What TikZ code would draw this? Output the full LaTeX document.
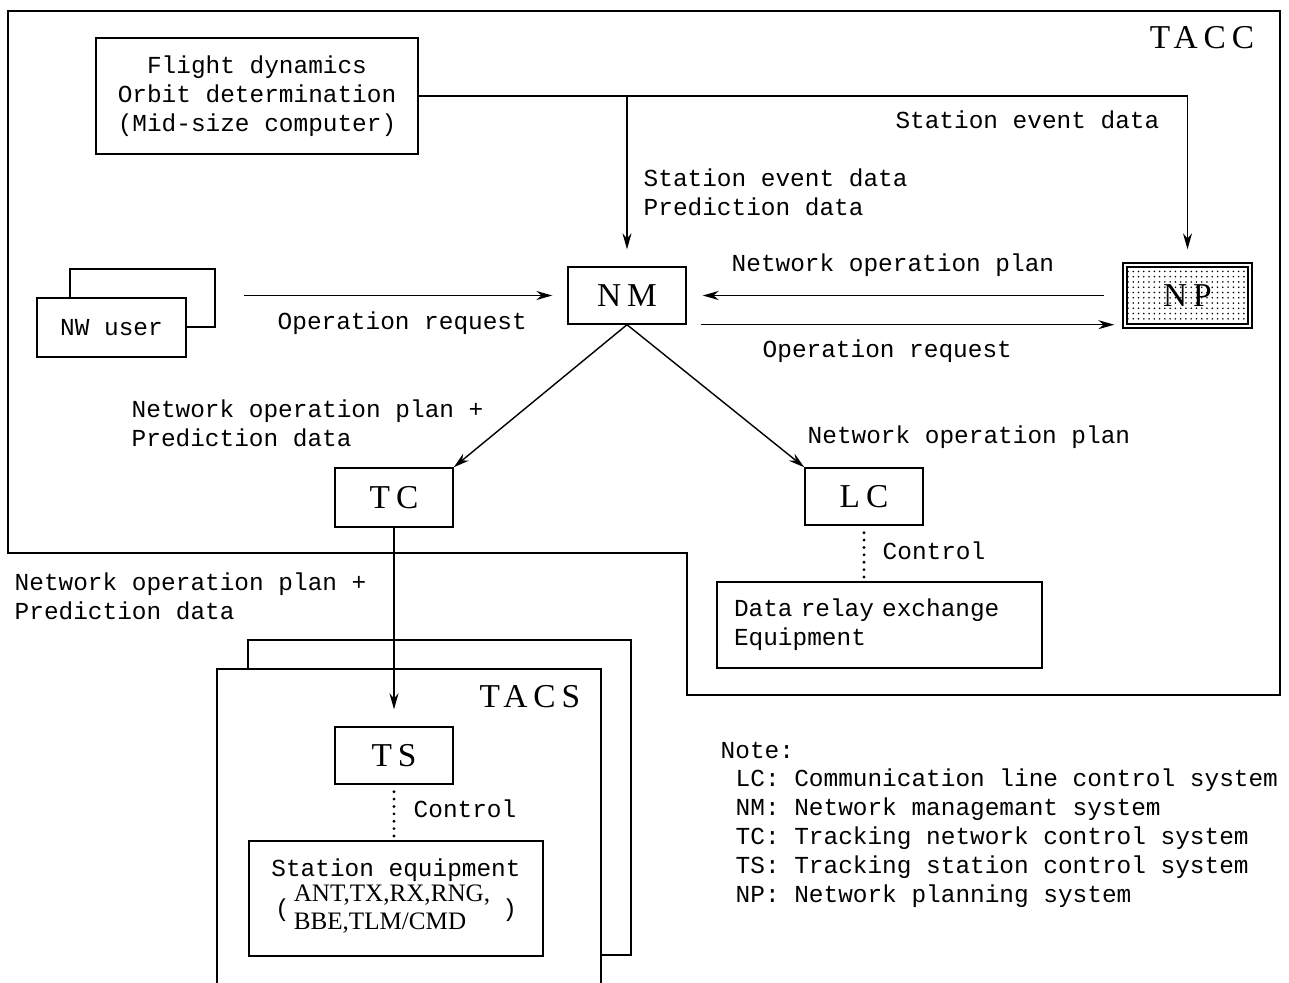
\documentclass[tikz,border=0pt]{standalone}
\usepackage{fontspec}
\setmainfont{Liberation Mono}
\newfontfamily\labelfont[LetterSpace=18]{Liberation Serif}
\newfontfamily\narrowfont{Liberation Serif}
\usetikzlibrary{arrows.meta,patterns}

\begin{document}
\begin{tikzpicture}
  [x=0.02cm,y=-0.02cm,line width=0.8pt,
   every node/.style={font=\fontsize{13.9}{16.5}\selectfont},
   box/.style={draw,rectangle,fill=white,inner sep=0pt},
   tag/.style={font=\labelfont\fontsize{19}{22}\selectfont},
   txt/.style={inner sep=0pt,align=left},
   arr/.style={-{Stealth[length=3.2mm,width=1.8mm]}},
   ctrl/.style={line width=1.8pt,dash pattern=on 0pt off 4.2pt,line cap=round}]

  \useasboundingbox (0,0) rectangle (1289,983);

  \draw (8,11) -- (1280,11) -- (1280,695) -- (687,695) -- (687,553) -- (8,553) -- cycle;
  \node[tag] (tacc) at (1202,38) {TACC};

  \node[box,minimum width=6.44cm,minimum height=2.32cm,align=center] (fd) at (257,96) {Flight dynamics\\Orbit determination\\(Mid-size computer)};
  \node[box,minimum width=2.36cm,minimum height=1.14cm,tag] (nm) at (627,295.5) {NM};
  \node[box,double,double distance=1.6pt,pattern=dots,minimum width=2.5cm,minimum height=1.22cm,tag] (np) at (1187.5,295.5) {NP};
  \node[box,minimum width=2.9cm,minimum height=1.16cm] (nwb) at (142.5,298) {};
  \node[box,minimum width=2.98cm,minimum height=1.18cm] (nw) at (111.5,327.5) {NW user};

  \node[box,minimum width=2.36cm,minimum height=1.18cm,tag] (tc) at (394,497.5) {TC};
  \node[box,minimum width=2.36cm,minimum height=1.14cm,tag] (lc) at (864,496.5) {LC};
  \node[box,text width=6.1cm,inner xsep=0.2cm,minimum height=1.72cm,align=left] (relay) at (879.5,625) {\hspace*{0.14cm}Data relay exchange\\\hspace*{0.14cm}Equipment};

  \draw (248,640) rectangle (631,955);
  \filldraw[fill=white] (217,669) rectangle (601,990);
  \node[tag] (tacs) at (530,697) {TACS};
  \node[box,minimum width=2.36cm,minimum height=1.14cm,tag] (ts) at (394,755.5) {TS};
  \node[box,minimum width=5.88cm,minimum height=2.3cm,align=center] (st) at (396,898.5) {Station equipment\\[-1pt]
    (\,{\narrowfont\fontsize{14.3}{16}\selectfont\begin{tabular}{@{}l@{}}ANT,TX,RX,RNG,\\BBE,TLM/CMD\end{tabular}}\enspace)};

  \draw[arr,shorten >=0.3cm] (fd.east) -| (np.north);
  \draw[arr,shorten >=0.34cm] (fd.east -| nm.north) -- (nm.north);
  \draw[arr,shorten <=0.56cm,shorten >=0.3cm] (nwb.east |- nm.west) -- (nm.west);
  \draw[arr,shorten <=0.4cm,shorten >=0.32cm] (np.west) -- (nm.east);
  \draw[arr,shorten <=0.28cm,shorten >=0.2cm] (nm.south east) -- (np.south west |- nm.south east);
  \draw[arr] (nm.south) -- (tc.north east);
  \draw[arr] (nm.south) -- (lc.north west);
  \draw[arr,shorten >=0.34cm] (tc.south) -- (ts.north);
  \draw[ctrl] ([yshift=-0.14cm]lc.south) -- (lc.south |- relay.north);
  \draw[ctrl] ([yshift=-0.14cm]ts.south) -- (ts.south |- st.north);

  \node[txt,anchor=east] (sed1) at (1160,120) {Station event data};
  \node[txt,anchor=west] (sed2) at (643,192.5) {Station event data\\Prediction data};
  \node[txt,anchor=west] (nop1) at (731,265) {Network operation plan};
  \node[txt,anchor=west] (or1) at (277,323) {Operation request};
  \node[txt,anchor=west] (or2) at (762,351) {Operation request};
  \node[txt,anchor=west] (nop2) at (131,423.5) {Network operation plan +\\Prediction data};
  \node[txt,anchor=west] (nop3) at (807,437) {Network operation plan};
  \node[txt,anchor=west] (ctl1) at (882,551) {Control};
  \node[txt,anchor=west] (nop4) at (14,596) {Network operation plan +\\Prediction data};
  \node[txt,anchor=west] (ctl2) at (413,809) {Control};

  \node[txt,anchor=west] (note) at (720,750) {Note:};
  \node[txt,anchor=west] (notes) at (735,838) {LC: Communication line control system\\NM: Network managemant system\\TC: Tracking network control system\\TS: Tracking station control system\\NP: Network planning system};
\end{tikzpicture}
\end{document}
